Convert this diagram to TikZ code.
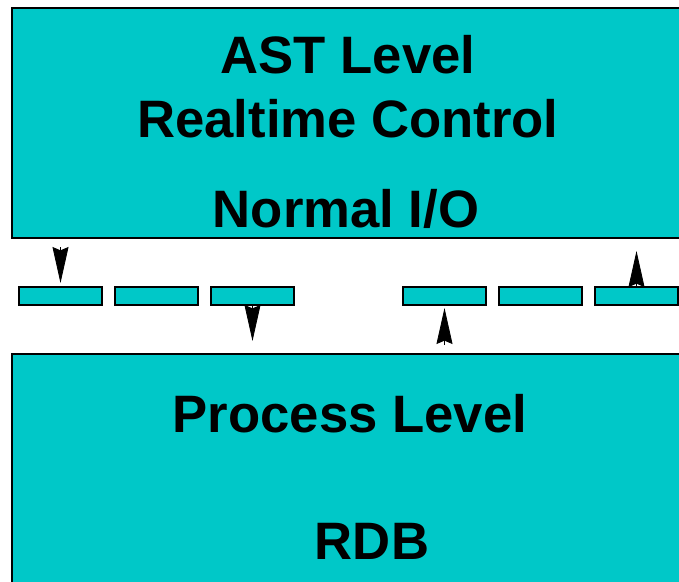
\documentclass[tikz,border=0pt]{standalone}
\usepackage{fontspec}
\setmainfont{Liberation Sans}
\usetikzlibrary{arrows.meta}
\definecolor{tealfill}{RGB}{0,200,200}
\begin{document}
\begin{tikzpicture}[x=0.75pt,y=-0.75pt,
  bigbox/.style={draw=black,fill=tealfill,line width=2pt,inner sep=0pt,outer sep=0pt,anchor=north west},
  smallbox/.style={draw=black,fill=tealfill,line width=1.5pt,inner sep=0pt,outer sep=0pt,minimum width=62.25pt,minimum height=13.5pt},
  lbl/.style={font=\fontsize{39.5pt}{44pt}\selectfont\bfseries,anchor=base,inner sep=0pt},
  arr/.style={line width=0.6pt,-{Stealth[length=27pt,width=12pt,inset=2.5pt]}}]
\useasboundingbox (0,0) rectangle (679,582);
\clip (0,0) rectangle (679,582);
\node[bigbox,minimum width=516pt,minimum height=172.5pt] (top) at (12,8) {};
\node[bigbox,minimum width=516pt,minimum height=200pt] (bot) at (12,354) {};
\node[lbl] (t1) at (348,73) {AST Level};
\node[lbl] (t2) at (348,137) {Realtime Control};
\node[lbl] (t3) at (346,227) {Normal I/O};
\node[lbl] (t4) at (350,432) {Process Level};
\node[lbl] (t5) at (372,559) {RDB};
\node[smallbox] (b1) at (60.5,296) {};
\node[smallbox] (b2) at (156.5,296) {};
\node[smallbox] (b3) at (252.5,296) {};
\node[smallbox] (b4) at (444.5,296) {};
\node[smallbox] (b5) at (540.5,296) {};
\node[smallbox] (b6) at (636.5,296) {};
\draw[arr,shorten <=6.75pt,shorten >=3pt] (top.south -| b1.north) -- (b1.north);
\draw[arr,shorten <=0.75pt,shorten >=9.75pt] (b3.south) -- (bot.north -| b3.south);
\draw[arr,shorten <=6.75pt,shorten >=2.25pt] (bot.north -| b4.south) -- (b4.south);
\draw[arr,shorten <=0pt,shorten >=9.75pt] (b6.north) -- (top.south -| b6.north);
\end{tikzpicture}
\end{document}
